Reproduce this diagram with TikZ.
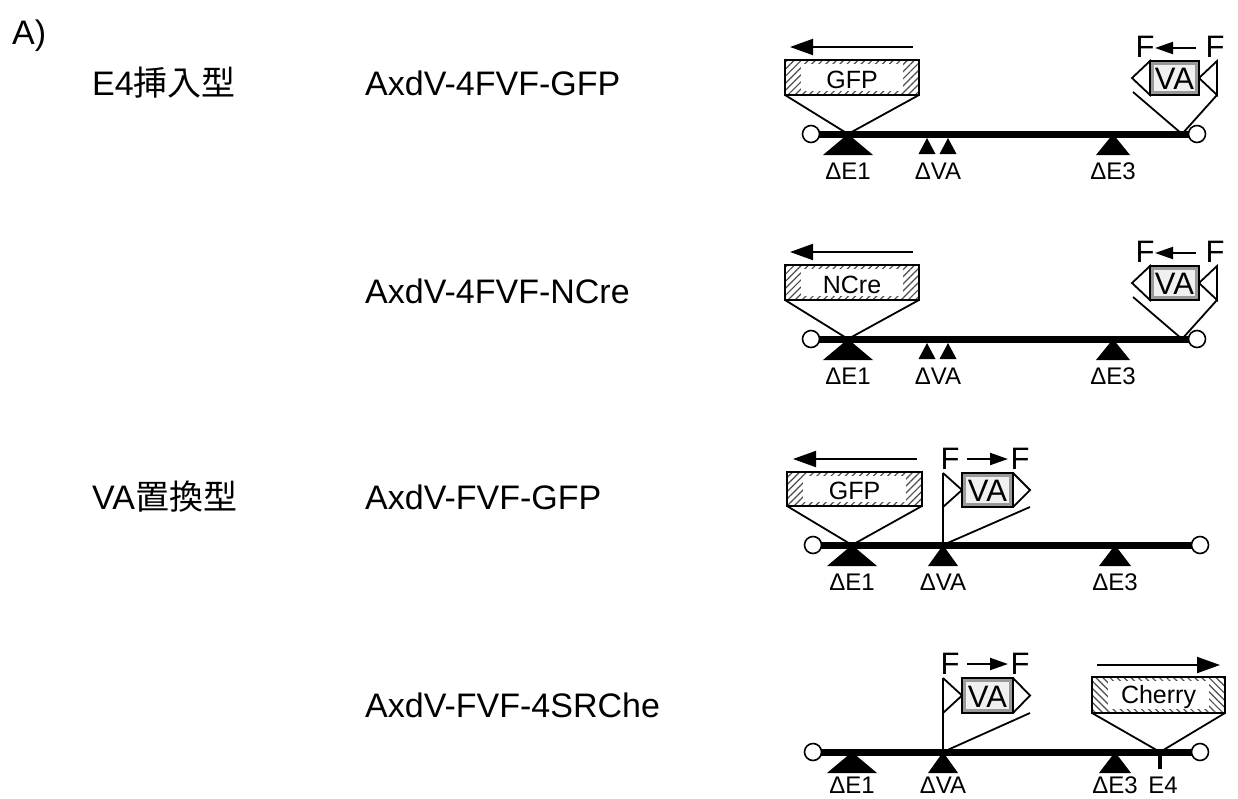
\documentclass[tikz,border=0pt]{standalone}
\usepackage{fontspec}
\setmainfont{Liberation Sans}
\newfontfamily\cjk{Noto Sans CJK JP}
\usetikzlibrary{arrows.meta,patterns.meta}
\tikzset{
  backbone/.style={line width=7pt},
  endcirc/.style={draw,line width=1.6pt,fill=white},
  thinln/.style={line width=1.8pt},
  hairln/.style={line width=1.1pt},
  boxline/.style={draw,line width=1.8pt},
  hatchne/.style={pattern={Lines[angle=45,distance=5pt,line width=1.2pt]},pattern color=black!70},
  hatchnw/.style={pattern={Lines[angle=-45,distance=5pt,line width=1.2pt]},pattern color=black!70},
  vaout/.style={draw,line width=1.8pt,fill=black!40},
  vain/.style={fill=black!6},
  frt/.style={draw,line width=1.8pt,fill=white,line join=miter},
  bigarrow/.style={line width=2pt,-{Triangle[length=23pt,width=16pt]}},
  smallarrow/.style={line width=2pt,-{Triangle[length=18pt,width=12pt]}},
  maintext/.style={anchor=base west,inner sep=0pt,font=\fontsize{34}{40}\selectfont},
  genelbl/.style={anchor=base,inner sep=0pt,font=\fontsize{25}{28}\selectfont},
  valbl/.style={anchor=base,inner sep=0pt,font=\fontsize{31}{32}\selectfont},
  flbl/.style={anchor=base,inner sep=0pt,font=\fontsize{31}{32}\selectfont},
  dlbl/.style={inner sep=0pt,font=\fontsize{24}{26}\selectfont},
}
\begin{document}
\begin{tikzpicture}[x=1pt,y=-1pt]
\useasboundingbox (0,0) rectangle (1238,798);

% left texts
\node[maintext] (tA) at (12,44) {A)};
\node[maintext] (tE4) at (92,95) {E4{\cjk 挿入型}};
\node[maintext] (tVA) at (92,509) {VA{\cjk 置換型}};
\node[maintext] (n1) at (365,95) {AxdV-4FVF-GFP};
\node[maintext] (n2) at (365,303) {AxdV-4FVF-NCre};
\node[maintext] (n3) at (365,509) {AxdV-FVF-GFP};
\node[maintext] (n4) at (365,717) {AxdV-FVF-4SRChe};

% ================= rows 1 and 2 =================
\foreach \yy/\gene/\rr in {134/GFP/a,339/NCre/b}{
\begin{scope}[shift={(0,\yy)}]
  \coordinate (L\rr) at (811,0);
  \coordinate (R\rr) at (1197,0);
  \coordinate (I1\rr) at (848,0);
  \coordinate (I4\rr) at (1182,0);
  % gene box
  \path[hatchne] (785,-74) rectangle (919,-39);
  \fill[white] (801,-70) rectangle (903,-43);
  \draw[boxline] (785,-74) rectangle (919,-39);
  \node[genelbl] (g\rr) at (852,-46) {\gene};
  \draw[bigarrow] (913,-87) -- (790,-87);
  \draw[thinln] (785,-39) -- (I1\rr) -- (919,-39);
  % VA cassette (reverse)
  \draw[frt] (1150,-73) -- (1132,-56) -- (1150,-39) -- cycle;
  \draw[frt] (1217,-73) -- (1199,-56) -- (1217,-39) -- cycle;
  \draw[vaout] (1150,-73) rectangle (1199,-39);
  \fill[vain] (1154,-69) rectangle (1195,-43);
  \draw[line width=1.8pt] (1150,-73) rectangle (1199,-39);
  \node[valbl] (va\rr) at (1174.5,-44.5) {VA};
  \node[flbl] (fl\rr) at (1145,-77) {F};
  \node[flbl] (fr\rr) at (1215,-77) {F};
  \draw[smallarrow] (1196,-86) -- (1155,-86);
  \draw[thinln] (1133,-42) -- (I4\rr) -- (1217,-39);
  % backbone
  \draw[backbone] (L\rr) -- (R\rr);
  \draw[endcirc] (L\rr) circle (8.5);
  \draw[endcirc] (R\rr) circle (8.5);
  % deletions
  \fill (848,0) -- (873,21) -- (823,21) -- cycle;
  \fill (927,4) -- (935.5,20) -- (918.5,20) -- cycle;
  \fill (948,4) -- (956.5,20) -- (939.5,20) -- cycle;
  \fill (1113,0) -- (1130,21) -- (1096,21) -- cycle;
  \node[dlbl] (de1\rr) at (848,37) {ΔE1};
  \node[dlbl] (dva\rr) at (938,37) {ΔVA};
  \node[dlbl] (de3\rr) at (1113,37) {ΔE3};
\end{scope}
}

% ================= row 3 =================
\begin{scope}[shift={(0,545)}]
  \coordinate (Lc) at (813,0);
  \coordinate (Rc) at (1200,0);
  \coordinate (I1c) at (852,0);
  \coordinate (IVc) at (943,0);
  \path[hatchne] (787,-73) rectangle (922,-39);
  \fill[white] (803,-69) rectangle (906,-43);
  \draw[boxline] (787,-73) rectangle (922,-39);
  \node[genelbl] (gc) at (854.5,-45.5) {GFP};
  \draw[bigarrow] (917,-86) -- (793,-86);
  \draw[thinln] (787,-39) -- (I1c) -- (922,-39);
  % VA cassette forward
  \draw[frt] (943,-72) -- (962,-55) -- (943,-38);
  \draw[frt] (1013,-72) -- (1030,-55) -- (1013,-38);
  \draw[vaout] (962,-72) rectangle (1013,-38);
  \fill[vain] (966,-68) rectangle (1009,-42);
  \draw[line width=1.8pt] (962,-72) rectangle (1013,-38);
  \node[valbl] (vac) at (987.5,-43.5) {VA};
  \node[flbl] (flc) at (950,-76) {F};
  \node[flbl] (frc) at (1020,-76) {F};
  \draw[smallarrow] (967,-86) -- (1008,-86);
  \draw[hairln] (943,-72) -- (IVc);
  \draw[thinln] (1030,-38) -- (IVc);
  \draw[backbone] (Lc) -- (Rc);
  \draw[endcirc] (Lc) circle (8.5);
  \draw[endcirc] (Rc) circle (8.5);
  \fill (852,0) -- (877,21) -- (827,21) -- cycle;
  \fill (943,0) -- (958,21) -- (928,21) -- cycle;
  \fill (1115,0) -- (1131,21) -- (1099,21) -- cycle;
  \node[dlbl] (de1c) at (852,37) {ΔE1};
  \node[dlbl] (dvac) at (943,37) {ΔVA};
  \node[dlbl] (de3c) at (1115,37) {ΔE3};
\end{scope}

% ================= row 4 =================
\begin{scope}[shift={(0,752)}]
  \coordinate (Ld) at (813,0);
  \coordinate (Rd) at (1200,0);
  \coordinate (IVd) at (943,0);
  \coordinate (I4d) at (1160,0);
  % VA cassette forward
  \draw[frt] (943,-74) -- (962,-56.5) -- (943,-39);
  \draw[frt] (1013,-74) -- (1030,-56.5) -- (1013,-39);
  \draw[vaout] (962,-74) rectangle (1013,-39);
  \fill[vain] (966,-70) rectangle (1009,-43);
  \draw[line width=1.8pt] (962,-74) rectangle (1013,-39);
  \node[valbl] (vad) at (987.5,-45) {VA};
  \node[flbl] (fld) at (950,-78) {F};
  \node[flbl] (frd) at (1020,-78) {F};
  \draw[smallarrow] (967,-88) -- (1008,-88);
  \draw[hairln] (943,-74) -- (IVd);
  \draw[thinln] (1030,-39) -- (IVd);
  % Cherry
  \path[hatchnw] (1092,-75) rectangle (1225,-39);
  \fill[white] (1108,-71) rectangle (1209,-43);
  \draw[boxline] (1092,-75) rectangle (1225,-39);
  \node[genelbl] (gd) at (1158.5,-49) {Cherry};
  \draw[bigarrow] (1097,-87) -- (1220,-87);
  \draw[thinln] (1092,-39) -- (I4d) -- (1225,-39);
  \draw[backbone] (Ld) -- (Rd);
  \draw[endcirc] (Ld) circle (8.5);
  \draw[endcirc] (Rd) circle (8.5);
  \draw[line width=3.5pt] (I4d) -- (1160,17);
  \fill (852,0) -- (877,21) -- (827,21) -- cycle;
  \fill (943,0) -- (958,21) -- (928,21) -- cycle;
  \fill (1115,0) -- (1131,21) -- (1099,21) -- cycle;
  \node[dlbl] (de1d) at (852,33) {ΔE1};
  \node[dlbl] (dvad) at (943,33) {ΔVA};
  \node[dlbl] (de3d) at (1115,33) {ΔE3};
  \node[dlbl] (e4d) at (1163,33) {E4};
\end{scope}
\end{tikzpicture}
\end{document}
